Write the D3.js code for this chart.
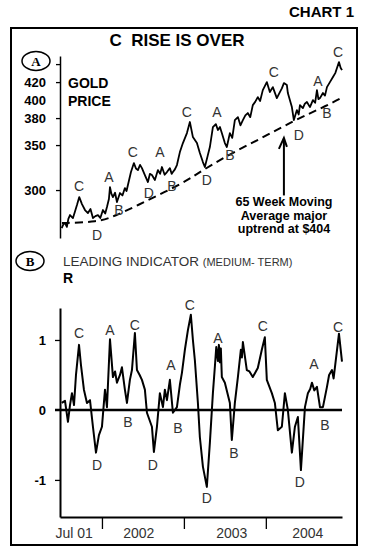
<!DOCTYPE html>
<html>
<head>
<meta charset="utf-8">
<script src="https://cdn.jsdelivr.net/npm/d3@7"></script>
<style>
  body { margin: 0; background: #fff; }
  svg text { font-family: Arial, "Liberation Sans", sans-serif; }
  .bold { font-weight: bold; fill: #000; }
  .wave { font-size: 14px; fill: #333; text-anchor: middle; }
  .note { font-family: "Liberation Sans Narrow", "Arial Narrow", Arial, sans-serif; font-weight: bold; font-size: 12.5px; text-anchor: middle; }
</style>
</head>
<body>
<div id="chart"></div>
<script>
// Dates are decimal years.
const priceDates = [2001.509, 2001.530, 2001.549, 2001.572, 2001.590, 2001.610, 2001.646, 2001.670, 2001.695, 2001.723, 2001.756, 2001.793,
  2001.829, 2001.860, 2001.890, 2001.920, 2001.951, 2001.980, 2002.012, 2002.040, 2002.061, 2002.085, 2002.098, 2002.115, 2002.134, 2002.160, 2002.183,
  2002.220, 2002.250, 2002.280, 2002.300, 2002.317, 2002.354, 2002.390, 2002.415, 2002.439, 2002.465, 2002.488, 2002.524, 2002.561,
  2002.585, 2002.610, 2002.646, 2002.683, 2002.710, 2002.732, 2002.765, 2002.793, 2002.829, 2002.850, 2002.866, 2002.890, 2002.915, 2002.951, 2002.988,
  2003.037, 2003.073, 2003.110, 2003.159, 2003.195, 2003.232, 2003.256, 2003.290, 2003.317, 2003.354, 2003.390, 2003.415,
  2003.440, 2003.463, 2003.500, 2003.524, 2003.561, 2003.590, 2003.622, 2003.659, 2003.690, 2003.720, 2003.750, 2003.780,
  2003.810, 2003.841, 2003.870, 2003.902, 2003.930, 2003.963, 2004.012, 2004.049, 2004.085, 2004.134, 2004.171, 2004.195,
  2004.220, 2004.256, 2004.268, 2004.317, 2004.341, 2004.378, 2004.400, 2004.415, 2004.451, 2004.475, 2004.500, 2004.537, 2004.573, 2004.600,
  2004.622, 2004.640, 2004.659, 2004.695, 2004.720, 2004.744, 2004.780, 2004.817, 2004.845, 2004.866, 2004.890, 2004.910, 2004.927];
const priceValues = [257.8, 262, 263.3, 259, 268, 272.2, 268.9, 276, 283.3, 292.2, 284.4, 277.8,
  274.4, 279, 268.9, 271, 272.2, 269, 277.8, 274, 281.1, 290, 303.3, 296, 292.2, 297, 286.7,
  296.7, 294, 302.2, 299, 305.6, 320, 330, 324, 322.2, 328, 324.4, 316.7, 308.9,
  318, 316.7, 311.1, 322.2, 318, 325.6, 317, 320, 324.4, 318, 320, 323, 327.8, 342.2, 352.2,
  363.3, 375.6, 358.9, 352.2, 341.1, 331.1, 325.6, 338, 347.8, 370, 373.3, 366.7,
  370, 363.3, 352.2, 347.8, 363.3, 358, 377.8, 381.1, 372, 377.8, 383, 385.6,
  381, 394.4, 398, 403.3, 399, 411.1, 420, 408.9, 414.4, 402.2, 408.9, 413,
  418.9, 416.7, 407.8, 392.2, 377.8, 388.9, 384, 394.4, 391.1, 396, 397.8, 392.2, 400, 397,
  411.1, 401, 402.2, 407.8, 405, 414.4, 420, 425.6, 430, 435.6, 442.2, 436, 433.3];

// 65 week moving average (dashed)
const maDates = [2001.512, 2001.951, 2002.159, 2002.439, 2002.768, 2003.049, 2003.195, 2003.537, 2003.951, 2004.354, 2004.756, 2004.939];
const maValues = [263.3, 264.4, 271.1, 283.3, 297.8, 311.1, 320, 338.9, 357.8, 377.8, 394.4, 403.3];

// Leading indicator (medium-term)
const indDates = [2001.509, 2001.549, 2001.585, 2001.610, 2001.634, 2001.659, 2001.683, 2001.720, 2001.744, 2001.780,
  2001.817, 2001.854, 2001.890, 2001.927, 2001.963, 2002.000, 2002.037, 2002.061, 2002.098, 2002.134, 2002.160, 2002.183, 2002.220,
  2002.244, 2002.280, 2002.305, 2002.341, 2002.366, 2002.402, 2002.427, 2002.460, 2002.488, 2002.524, 2002.549, 2002.610, 2002.634,
  2002.671, 2002.707, 2002.744, 2002.768, 2002.793, 2002.829, 2002.866, 2002.915, 2002.951, 2002.976, 2003.012, 2003.049,
  2003.085, 2003.110, 2003.134, 2003.171, 2003.195, 2003.232, 2003.280, 2003.317, 2003.354, 2003.380, 2003.395, 2003.415, 2003.427,
  2003.439, 2003.451, 2003.463, 2003.500, 2003.561, 2003.585, 2003.622, 2003.659, 2003.695, 2003.708, 2003.720, 2003.768, 2003.800, 2003.841, 2003.902,
  2003.951, 2003.988, 2004.012, 2004.073, 2004.110, 2004.146, 2004.195, 2004.232, 2004.268, 2004.317, 2004.354, 2004.390,
  2004.427, 2004.476, 2004.512, 2004.540, 2004.561, 2004.590, 2004.622, 2004.659, 2004.695, 2004.744, 2004.770, 2004.805, 2004.825, 2004.841, 2004.890, 2004.927];
const indValues = [0.10, 0.13, -0.17, 0.07, 0.24, 0.07, 0.50, 0.93, 0.64, 0.29,
  0.10, 0.14, -0.24, -0.61, -0.36, -0.24, 0.29, 0.04, 1.01, 0.47, 0.55, 0.39, 0.50,
  0.61, 0.29, 0.10, 0.43, 0.57, 1.10, 0.57, 0.50, 0.43, 0.29, -0.04, -0.24, -0.60,
  -0.24, 0.24, 0.04, 0.29, 0.14, 0.43, -0.04, 0.04, 0.36, 0.53, 0.86, 1.14,
  1.36, 1.00, 0.71, 0.10, -0.39, -0.81, -1.10, -0.47, 0.24, 0.65, 0.90, 0.70, 0.93,
  0.68, 0.88, 0.47, 0.39, 0.10, -0.43, 0.10, 0.47, 0.86, 0.75, 0.97, 0.57, 0.55, 0.47, 0.60,
  0.86, 1.04, 0.43, 0.24, 0.10, -0.29, -0.24, 0.24, 0.00, -0.61, -0.24, -0.10,
  -0.86, 0.04, 0.24, 0.30, 0.39, 0.28, 0.33, 0.04, 0.04, 0.33, 0.50, 0.57, 0.45, 0.61, 1.09, 0.69];

// Wave labels: letter, date, value where the letter sits
const priceWaveLetters = ["C", "A", "B", "D", "C", "A", "D", "B", "C", "A", "D", "B", "C", "D", "A", "B", "C"];
const priceWaveDates = [2001.720, 2002.085, 2002.207, 2001.939, 2002.378, 2002.707, 2002.573, 2002.854, 2003.037, 2003.402, 2003.280, 2003.561, 2004.098, 2004.402, 2004.634, 2004.744, 2004.878];
const priceWaveValues = [304.4, 314.4, 277.8, 250, 342.2, 342.2, 296.7, 304.4, 386.7, 386.7, 311.1, 338.9, 431.1, 361.1, 421.1, 385.6, 453.3];

const indWaveLetters = ["C", "A", "C", "A", "C", "A", "C", "A", "C", "D", "B", "D", "B", "D", "B", "D", "B"];
const indWaveDates = [2001.720, 2002.098, 2002.402, 2002.841, 2003.073, 2003.415, 2003.963, 2004.585, 2004.878, 2001.939, 2002.317, 2002.622, 2002.927, 2003.280, 2003.610, 2004.415, 2004.720];
const indWaveValues = [1.10, 1.14, 1.21, 0.64, 1.50, 1.03, 1.20, 0.66, 1.19, -0.79, -0.17, -0.79, -0.26, -1.26, -0.61, -1.03, -0.21];

// Axis ticks and labels
const priceTicks = [300, 350, 380, 420, 440];
const priceLabels = [300, 350, 380, 400, 420];
const indTicks = [1, -1];
const indLabels = ["1", "0", "-1"];
const yearTicks = [2002, 2003, 2004];
const xLabels = ["Jul 01", "2002", "2003", "2004"];
const xLabelDates = [2001.66, 2002.45, 2003.585, 2004.51];

const width = 368, height = 550;

// decimal year -> Date
function toDate(f) {
  const y = Math.floor(f);
  const a = new Date(y, 0, 1).getTime(), b = new Date(y + 1, 0, 1).getTime();
  return new Date(a + (f - y) * (b - a));
}

const svg = d3.select("#chart").append("svg")
    .attr("width", width)
    .attr("height", height);

const x = d3.scaleTime()
    .domain([toDate(2001.488), toDate(2004.927)])
    .range([60, 342]);

const yP = d3.scaleLinear().domain([246.7, 449]).range([238, 56]);
const yI = d3.scaleLinear().domain([-1.53, 1.457]).range([517, 308]);

// Frame and headings
svg.append("text").attr("class", "bold")
    .attr("x", 354).attr("y", 17).attr("text-anchor", "end")
    .style("font-size", "15px").text("CHART 1");

svg.append("rect")
    .attr("x", 11).attr("y", 28).attr("width", 346).attr("height", 517)
    .attr("fill", "none").attr("stroke", "#000").attr("stroke-width", 2);

svg.append("text").attr("class", "bold")
    .attr("x", 177).attr("y", 46).attr("text-anchor", "middle")
    .style("font-size", "17px").style("white-space", "pre")
    .text("C  RISE IS OVER");

function badge(cx, cy, letter) {
  svg.append("ellipse").attr("cx", cx).attr("cy", cy).attr("rx", 14).attr("ry", 9.5)
      .attr("fill", "none").attr("stroke", "#000").attr("stroke-width", 1.5);
  svg.append("text").attr("x", cx).attr("y", cy + 4.5).attr("text-anchor", "middle")
      .style("font-family", "'Liberation Serif', 'Times New Roman', serif")
      .style("font-weight", "bold")
      .style("font-size", "13px").text(letter);
}
badge(36, 61, "A");
badge(30, 261, "B");

// ---- Top panel: gold price
const gP = svg.append("g");

gP.append("g")
    .attr("transform", "translate(60,0)")
    .call(d3.axisLeft(yP).tickValues(priceTicks).tickSize(4).tickSizeOuter(0).tickFormat(""))
    .call(g => g.select(".domain").attr("stroke-width", 1.5))
    .call(g => g.selectAll(".tick line").attr("stroke-width", 1.3));

gP.selectAll(".plab")
  .data(priceLabels)
  .join("text")
    .attr("class", "bold")
    .attr("x", 46).attr("y", d => yP(d) + 5)
    .attr("text-anchor", "end")
    .style("font-size", "13px")
    .text(d => d);

gP.append("text").attr("class", "bold").attr("x", 68).attr("y", 88).style("font-size", "14px").text("GOLD");
gP.append("text").attr("class", "bold").attr("x", 68).attr("y", 106).style("font-size", "14px").text("PRICE");

const maLine = d3.line().x((d, i) => x(toDate(maDates[i]))).y(d => yP(d)).curve(d3.curveBasis);
gP.append("path")
    .attr("d", maLine(maValues))
    .attr("fill", "none").attr("stroke", "#000").attr("stroke-width", 2)
    .attr("stroke-dasharray", "8,5");

const priceLine = d3.line().x((d, i) => x(toDate(priceDates[i]))).y(d => yP(d));
gP.append("path")
    .attr("d", priceLine(priceValues))
    .attr("fill", "none").attr("stroke", "#000").attr("stroke-width", 1.8)
    .attr("stroke-linejoin", "round");

gP.selectAll(".pw")
  .data(priceWaveLetters)
  .join("text")
    .attr("class", "wave")
    .attr("x", (d, i) => x(toDate(priceWaveDates[i])))
    .attr("y", (d, i) => yP(priceWaveValues[i]) + 5)
    .text(d => d);

// Arrow to moving average
const ax = x(toDate(2004.22));
gP.append("line")
    .attr("x1", ax).attr("x2", ax).attr("y1", yP(358)).attr("y2", yP(294))
    .attr("stroke", "#000").attr("stroke-width", 2);
gP.append("path")
    .attr("d", `M${ax - 5},${yP(358) + 11}L${ax},${yP(358)}L${ax + 3},${yP(358) + 9}`)
    .attr("fill", "none").attr("stroke", "#000").attr("stroke-width", 2);

gP.selectAll(".note")
  .data(["65 Week Moving", "Average major", "uptrend at $404"])
  .join("text")
    .attr("class", "note")
    .attr("x", 284).attr("y", (d, i) => 206 + i * 13.5)
    .text(d => d);

// ---- Bottom panel: leading indicator
const gI = svg.append("g");

const title = gI.append("text").attr("x", 63).attr("y", 266).style("fill", "#333").style("font-size", "13.5px");
title.append("tspan").text("LEADING INDICATOR ");
title.append("tspan").style("font-size", "11px").text("(MEDIUM- TERM)");

gI.append("text").attr("class", "bold").attr("x", 63).attr("y", 283).style("font-size", "14px").text("R");

gI.append("g")
    .attr("transform", "translate(60,0)")
    .call(d3.axisLeft(yI).tickValues(indTicks).tickSize(5).tickSizeOuter(0).tickFormat(""))
    .call(g => g.select(".domain").attr("stroke-width", 2))
    .call(g => g.selectAll(".tick line").attr("stroke-width", 1.3));

gI.append("g")
    .attr("transform", "translate(0,517)")
    .call(d3.axisBottom(x).tickValues(yearTicks.map(toDate)).tickSize(12).tickSizeOuter(0).tickFormat(""))
    .call(g => g.select(".domain").attr("stroke-width", 2))
    .call(g => g.selectAll(".tick line").attr("stroke-width", 1.3));

gI.selectAll(".xl")
  .data(xLabels)
  .join("text")
    .attr("x", (d, i) => x(toDate(xLabelDates[i])))
    .attr("y", 538)
    .attr("text-anchor", "middle")
    .style("font-size", "14px").style("fill", "#333")
    .text(d => d);

gI.selectAll(".il")
  .data(indLabels)
  .join("text")
    .attr("class", "bold")
    .attr("x", 46).attr("y", d => yI(+d) + 5)
    .attr("text-anchor", "end")
    .style("font-size", "13px")
    .text(d => d);

// zero line
gI.append("line")
    .attr("x1", 55).attr("x2", 342).attr("y1", yI(0)).attr("y2", yI(0))
    .attr("stroke", "#000").attr("stroke-width", 2.5);

const indLine = d3.line().x((d, i) => x(toDate(indDates[i]))).y(d => yI(d));
gI.append("path")
    .attr("d", indLine(indValues))
    .attr("fill", "none").attr("stroke", "#000").attr("stroke-width", 2)
    .attr("stroke-linejoin", "round");

gI.selectAll(".iw")
  .data(indWaveLetters)
  .join("text")
    .attr("class", "wave")
    .attr("x", (d, i) => x(toDate(indWaveDates[i])))
    .attr("y", (d, i) => yI(indWaveValues[i]) + 5)
    .text(d => d);
</script>
</body>
</html>
